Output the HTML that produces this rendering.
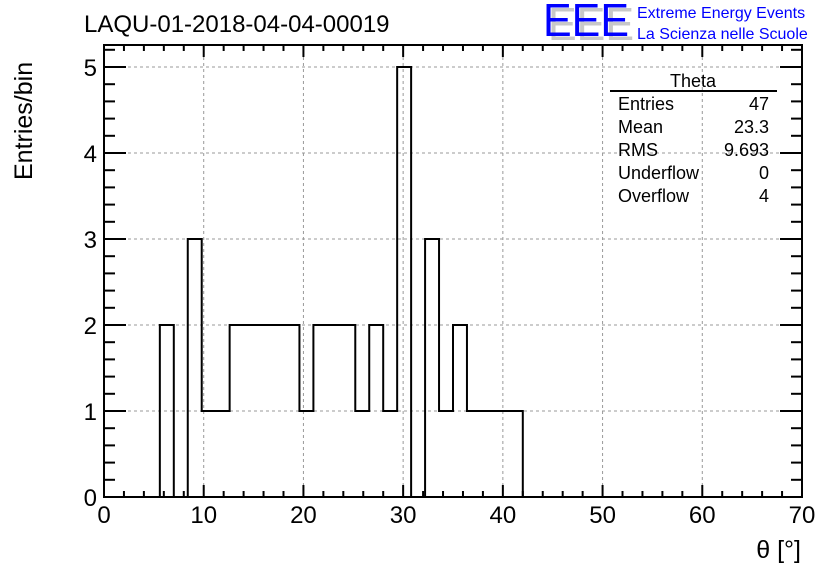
<!DOCTYPE html>
<html><head><meta charset="utf-8"><style>
body{margin:0;background:#fff;width:836px;height:572px;overflow:hidden}
svg{font-family:"Liberation Sans",sans-serif}
</style></head><body>
<svg id="c" width="836" height="572">
<text x="84" y="32" font-size="24">LAQU-01-2018-04-04-00019</text>
<g>
<text x="548" y="40" font-size="46" fill="#c8c8c8" textLength="86" lengthAdjust="spacingAndGlyphs">EEE</text>
<text x="543" y="36" font-size="46" fill="#0000ff" textLength="86" lengthAdjust="spacingAndGlyphs">EEE</text>
<text x="637" y="18" font-size="16" fill="#0000ff">Extreme Energy Events</text>
<text x="637" y="39" font-size="16" fill="#0000ff">La Scienza nelle Scuole</text>
</g>
<text transform="translate(32,180) rotate(-90)" font-size="25">Entries/bin</text>
<text x="801" y="558" font-size="25" text-anchor="end">θ [°]</text>
<g id="grid"></g><g id="axes"></g><g id="hist"></g>
<g font-size="18">
<text x="693" y="87" text-anchor="middle">Theta</text>
<line x1="610" y1="91" x2="777" y2="91" stroke="#000" stroke-width="2"/>
<text x="618" y="110">Entries</text><text x="769" y="110" text-anchor="end">47</text>
<text x="618" y="133">Mean</text><text x="769" y="133" text-anchor="end">23.3</text>
<text x="618" y="156">RMS</text><text x="769" y="156" text-anchor="end">9.693</text>
<text x="618" y="179">Underflow</text><text x="769" y="179" text-anchor="end">0</text>
<text x="618" y="202">Overflow</text><text x="769" y="202" text-anchor="end">4</text>
</g>
</svg>
<script>
const binWidth = 1.4;
const binStart = 5.6;
const counts = [2,0,3,1,1,2,2,2,2,2,1,2,2,2,1,2,1,5,0,3,1,2,1,1,1,1];
const xTicks = [0,10,20,30,40,50,60,70];
const yTicks = [0,1,2,3,4,5];
const NS="http://www.w3.org/2000/svg";
const L=104,R=802,B=497,T=45;
const xs=v=>L+(v-0)/70*(R-L);
const ys=v=>B-v*(B-67)/5;
function mk(tag,attrs,parent){const e=document.createElementNS(NS,tag);for(const k in attrs)e.setAttribute(k,attrs[k]);document.getElementById(parent).appendChild(e);return e;}
xTicks.forEach(v=>{if(v>0&&v<70){const g=mk('line',{x1:xs(v),x2:xs(v),y1:T,y2:B,stroke:'#999','stroke-dasharray':'3,3'},'grid');

}});
yTicks.forEach(v=>{if(v>0){const g=mk('line',{x1:L,x2:R,y1:ys(v),y2:ys(v),stroke:'#999','stroke-dasharray':'3,3'},'grid');

}});
const f=mk('rect',{x:L,y:T,width:R-L,height:B-T,fill:'none',stroke:'#000','stroke-width':2},'axes');


for(let v=0;v<=70;v+=2){const len=v%10===0?12:6;
mk('line',{x1:xs(v),x2:xs(v),y1:B,y2:B-len,stroke:'#000','stroke-width':2},'axes');
mk('line',{x1:xs(v),x2:xs(v),y1:T,y2:T+len,stroke:'#000','stroke-width':2},'axes');}
for(let i=0;i<=26;i++){const v=i*0.2;const y=ys(v);if(y<T)break;const len=i%5===0?22:11;
mk('line',{x1:L,x2:L+len,y1:y,y2:y,stroke:'#000','stroke-width':2},'axes');
mk('line',{x1:R,x2:R-len,y1:y,y2:y,stroke:'#000','stroke-width':2},'axes');}
xTicks.forEach(v=>{const t=mk('text',{x:xs(v),y:523,'font-size':24,'text-anchor':'middle'},'axes');t.textContent=v;

});
yTicks.forEach(v=>{const t=mk('text',{x:97,y:ys(v)+9,'font-size':24,'text-anchor':'end'},'axes');t.textContent=v;

});
let d='M'+xs(binStart)+','+ys(0);
counts.forEach((c,i)=>{const x0=xs(binStart+i*binWidth),x1=xs(binStart+(i+1)*binWidth);d+=' L'+x0+','+ys(c)+' L'+x1+','+ys(c);});
d+=' L'+xs(binStart+counts.length*binWidth)+','+ys(0);
const p=mk('path',{d:d,fill:'none',stroke:'#000','stroke-width':2},'hist');


</script>
</body></html>
